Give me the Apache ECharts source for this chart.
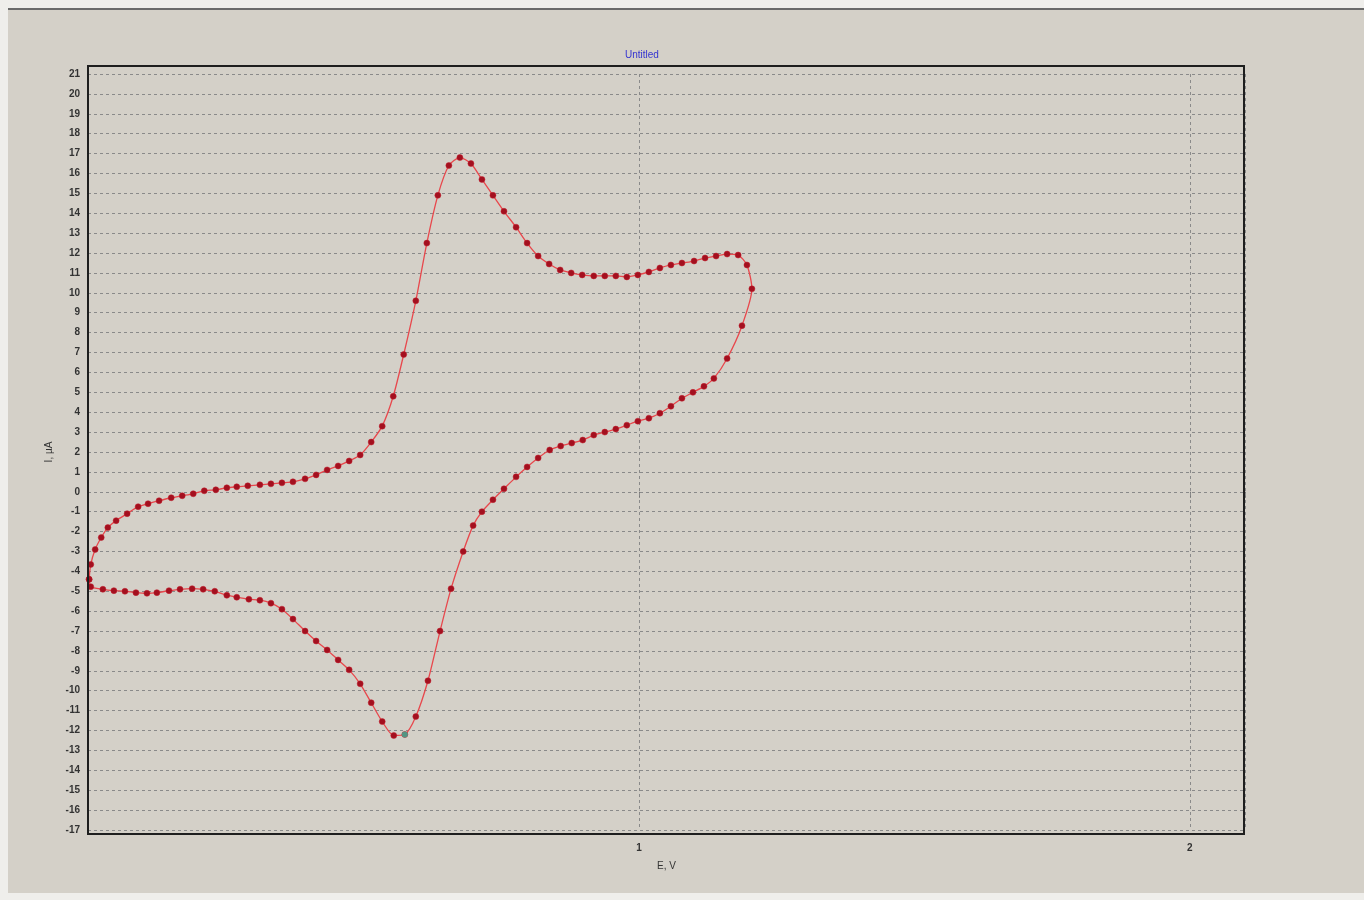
<!DOCTYPE html>
<html>
<head>
<meta charset="utf-8">
<script src="https://cdn.jsdelivr.net/npm/echarts@6/dist/echarts.min.js"></script>
<style>
  html, body { margin: 0; padding: 0; background: #efeeeb; }
  #panel { position: absolute; left: 8px; top: 8px; width: 1356px; height: 885px; background: #d4d0c8; border-top: 2px solid #6a6a6a; box-sizing: border-box; }
  #chart { position: absolute; left: 0; top: 0; width: 1364px; height: 900px; }
</style>
</head>
<body>
<div id="panel"></div>
<div id="chart"></div>
<script>
// Potential E (V) and current I (µA), in scan order
const E = [0.002,0.005,0.013,0.024,0.036,0.051,0.071,0.091,0.109,0.129,0.151,0.171,0.191,0.211,0.232,0.252,0.270,0.290,0.312,0.332,0.352,0.372,0.394,0.414,0.434,0.454,0.474,0.494,0.514,0.534,0.554,0.573,0.595,0.615,0.635,0.655,0.675,0.695,0.715,0.735,0.755,0.777,0.797,0.817,0.837,0.857,0.877,0.897,0.918,0.938,0.958,0.978,0.998,1.018,1.038,1.058,1.078,1.100,1.120,1.140,1.160,1.180,1.196,1.205,1.187,1.160,1.136,1.118,1.098,1.078,1.058,1.038,1.018,0.998,0.978,0.958,0.938,0.918,0.898,0.878,0.858,0.838,0.817,0.797,0.777,0.755,0.735,0.715,0.699,0.681,0.659,0.639,0.617,0.595,0.575,0.555,0.534,0.514,0.494,0.474,0.454,0.434,0.414,0.394,0.372,0.352,0.332,0.312,0.292,0.270,0.252,0.230,0.209,0.189,0.167,0.147,0.125,0.107,0.087,0.067,0.047,0.027,0.005,0.002];
const I = [-4.4,-3.65,-2.9,-2.3,-1.8,-1.45,-1.1,-0.75,-0.6,-0.45,-0.3,-0.2,-0.1,0.05,0.1,0.2,0.25,0.3,0.35,0.4,0.45,0.5,0.65,0.85,1.1,1.3,1.55,1.85,2.5,3.3,4.8,6.9,9.6,12.5,14.9,16.4,16.8,16.5,15.7,14.9,14.1,13.3,12.5,11.85,11.45,11.15,11.0,10.9,10.85,10.85,10.85,10.8,10.9,11.05,11.25,11.4,11.5,11.6,11.75,11.85,11.95,11.9,11.4,10.2,8.35,6.7,5.7,5.3,5.0,4.7,4.3,3.95,3.7,3.55,3.35,3.15,3.0,2.85,2.6,2.45,2.3,2.1,1.7,1.25,0.75,0.15,-0.4,-1.0,-1.7,-3.0,-4.87,-7.0,-9.5,-11.3,-12.2,-12.25,-11.55,-10.6,-9.65,-8.95,-8.45,-7.95,-7.5,-7.0,-6.4,-5.9,-5.6,-5.45,-5.4,-5.3,-5.2,-5.0,-4.9,-4.87,-4.9,-4.97,-5.07,-5.1,-5.07,-5.0,-4.97,-4.9,-4.77,-4.4];
const selectedIndex = 94; // highlighted (cursor) point
const xTicks = [0, 1, 2];
const title = 'Untitled';
const xName = 'E, V';
const yName = 'I, µA';

const pts = E.map((e, i) => [e, I[i]]);
const chart = echarts.init(document.getElementById('chart'), null, { renderer: 'canvas' });
const font = 'Liberation Sans, Arial, sans-serif';
chart.setOption({
  backgroundColor: 'transparent',
  animation: false,
  title: {
    text: title, left: 620, top: 45,
    textStyle: { color: '#3434d0', fontSize: 10, fontWeight: 'normal', fontFamily: font }
  },
  grid: { left: 88, right: 119, top: 74, bottom: 70, containLabel: false },
  xAxis: {
    type: 'value', min: 0, max: 2.1, interval: 1,
    name: xName, nameLocation: 'middle', nameGap: 31,
    nameTextStyle: { color: '#333', fontSize: 10, fontFamily: font },
    axisLine: { show: false },
    axisTick: { show: true, length: 6, lineStyle: { color: '#777', type: [2, 2] } },
    axisLabel: { margin: 13, color: '#333', fontSize: 10, fontWeight: 'bold', fontFamily: font,
      formatter: v => (xTicks.indexOf(v) > 0 ? String(v) : '') },
    splitLine: { show: true, lineStyle: { color: '#8a8a8a', type: [3, 3], width: 1 } }
  },
  yAxis: {
    type: 'value', min: -17, max: 21, interval: 1,
    name: yName, nameLocation: 'middle', nameGap: 20, nameRotate: 90,
    nameTextStyle: { color: '#333', fontSize: 10, fontFamily: font },
    axisLine: { show: false },
    axisTick: { show: false },
    axisLabel: { margin: 8, color: '#333', fontSize: 10, fontWeight: 'bold', fontFamily: font },
    splitLine: { show: true, lineStyle: { color: '#8a8a8a', type: [3, 3], width: 1 } }
  },
  graphic: [{
    type: 'rect', z: 100, silent: true,
    shape: { x: 88, y: 66, width: 1156, height: 768 },
    style: { fill: 'none', stroke: '#1e1e1e', lineWidth: 2 }
  }],
  series: [{
    type: 'line', data: pts, smooth: 0.25, clip: false,
    symbol: 'circle', symbolSize: 6, showSymbol: true,
    lineStyle: { color: '#e8474c', width: 1.3 },
    itemStyle: { color: '#a3101f', borderColor: '#c21a2a', borderWidth: 0.5 }
  }, {
    type: 'scatter', data: [pts[selectedIndex]], symbol: 'circle', symbolSize: 6,
    itemStyle: { color: '#3fb59b' }, z: 5
  }]
});
</script>
</body>
</html>
